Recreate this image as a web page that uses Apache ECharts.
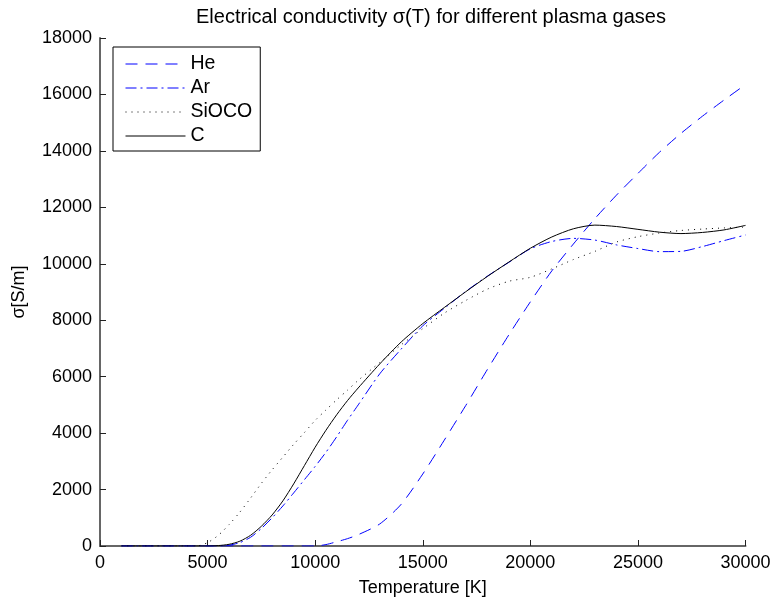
<!DOCTYPE html>
<html>
<head>
<meta charset="utf-8">
<script src="https://cdn.jsdelivr.net/npm/echarts@6/dist/echarts.min.js"></script>
<style>
html,body{margin:0;padding:0;background:#fff;}
#c{width:776px;height:604px;}
</style>
</head>
<body>
<div id="c"></div>
<script>
// Temperature grid [K]
var temps = [1000,2000,3000,4000,4500,5000,5500,6000,6500,7000,7500,8000,8500,9000,9500,10000,10500,11000,11500,12000,13000,14000,15000,16000,17000,18000,19000,20000,21000,22000,23000,24000,25000,26000,27000,28000,29000,30000];
// Electrical conductivity [S/m]
var heVals    = [0,0,0,0,0,0,0,0,0,0,0,0,0,0,0,0,50,150,260,400,780,1480,2550,3750,4980,6250,7480,8650,9750,10700,11600,12430,13200,13950,14620,15230,15800,16350];
var arVals    = [0,0,0,0,0,0,0,30,120,310,620,1000,1420,1880,2350,2820,3320,3870,4450,5000,6100,6980,7800,8420,9020,9560,10050,10530,10790,10900,10840,10670,10540,10430,10440,10610,10820,11020];
var siocoVals = [0,0,0,0,0,120,380,760,1200,1700,2220,2700,3150,3600,4020,4450,4820,5180,5520,5870,6500,7130,7700,8250,8700,9100,9380,9520,9820,10150,10440,10770,10960,11090,11180,11230,11270,11300];
var cVals     = [0,0,0,0,0,0,15,60,170,380,700,1100,1600,2200,2850,3500,4100,4650,5150,5600,6450,7230,7880,8450,9010,9550,10060,10550,10950,11240,11370,11320,11220,11120,11070,11110,11200,11360];
var seriesNames = ['He','Ar','SiOCO','C'];
var xTicks = [0,5000,10000,15000,20000,25000,30000];
var yTicks = [0,2000,4000,6000,8000,10000,12000,14000,16000,18000];

function pairs(vals){ return temps.map(function(t,i){ return [t, vals[i]]; }); }

var FONT = "'Liberation Sans', Arial, Helvetica, sans-serif";
var chart = echarts.init(document.getElementById('c'), null, {renderer:'canvas'});

function mkSeries(name, vals, color, dash){
  return {
    name: name, type: 'line', data: pairs(vals),
    showSymbol: false, symbol: 'none',
    smooth: 0.25,
    lineStyle: {color: color, width: 1, type: dash},
    itemStyle: {color: color},
    z: 3
  };
}

chart.setOption({
  animation: false,
  backgroundColor: '#fff',
  title: {
    text: 'Electrical conductivity σ(T) for different plasma gases',
    left: 426, top: 2, textAlign: 'center',
    textStyle: {fontFamily: FONT, fontSize: 20, fontWeight: 'normal', color: '#000'}
  },
  legend: {
    data: seriesNames,
    orient: 'vertical',
    left: 113, top: 47,
    padding: [7, 8, 5, 12],
    itemWidth: 60, itemHeight: 20, itemGap: 4,
    borderColor: '#000', borderWidth: 1,
    backgroundColor: '#fff',
    itemStyle: {opacity: 0},
    lineStyle: {width: 1},
    textStyle: {fontFamily: FONT, fontSize: 19.5, color: '#000'}
  },
  grid: {left: 100, right: 30.5, top: 38, bottom: 58, containLabel: false},
  xAxis: {
    type: 'value', min: xTicks[0], max: xTicks[xTicks.length-1], interval: 5000,
    name: 'Temperature [K]', nameLocation: 'middle', nameGap: 33,
    nameTextStyle: {fontFamily: FONT, fontSize: 18, color: '#000'},
    axisLine: {show: true, lineStyle: {color: '#666', width: 2}},
    axisTick: {show: true, inside: true, length: 6, lineStyle: {color: '#222', width: 1}},
    axisLabel: {fontFamily: FONT, fontSize: 18, color: '#000', margin: 8, formatter: function(v){ return String(v); }},
    splitLine: {show: false}
  },
  yAxis: {
    type: 'value', min: yTicks[0], max: yTicks[yTicks.length-1], interval: 2000,
    name: 'σ[S/m]', nameLocation: 'middle', nameGap: 72, nameRotate: 90,
    nameTextStyle: {fontFamily: FONT, fontSize: 18, color: '#000'},
    axisLine: {show: true, lineStyle: {color: '#666', width: 2}},
    axisTick: {show: true, inside: true, length: 6, lineStyle: {color: '#222', width: 1}},
    axisLabel: {fontFamily: FONT, fontSize: 18, color: '#000', margin: 8, formatter: function(v){ return String(v); }},
    splitLine: {show: false}
  },
  series: [
    mkSeries('He', heVals, '#0000ff', [12, 8]),
    mkSeries('Ar', arVals, '#0000ff', [11, 4, 2, 4]),
    mkSeries('SiOCO', siocoVals, '#000000', [1, 5]),
    mkSeries('C', cVals, '#000000', 'solid')
  ]
});
</script>
</body>
</html>
